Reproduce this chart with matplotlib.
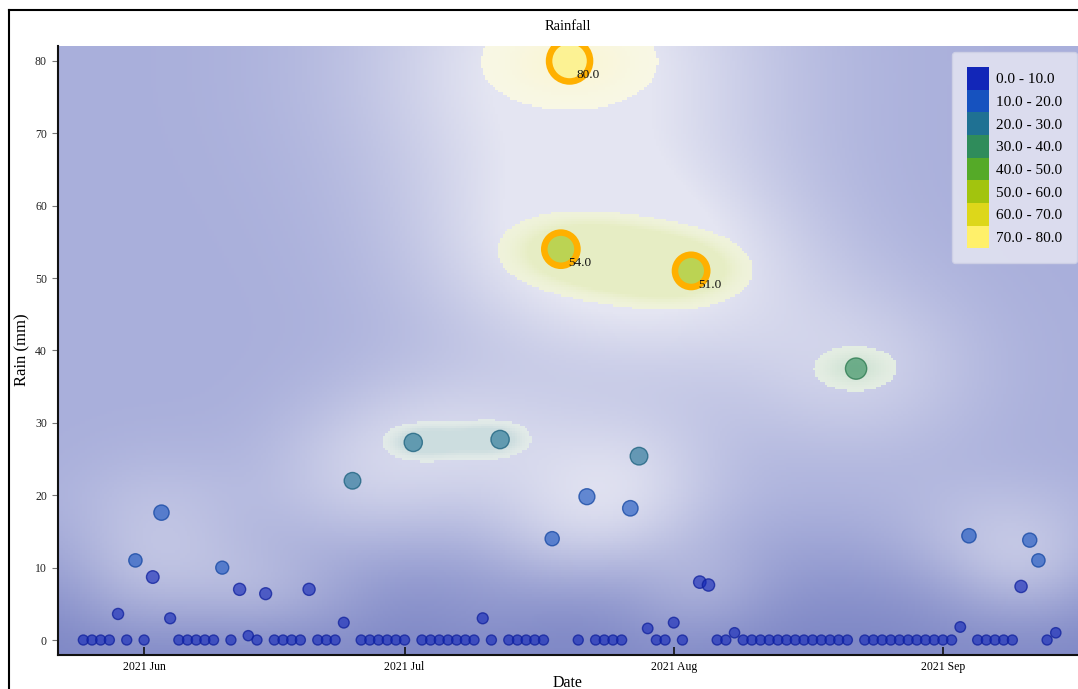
import numpy as np
import pandas as pd
import matplotlib
matplotlib.use('Agg')
import matplotlib.pyplot as plt
import matplotlib.dates as mdates
from matplotlib.patches import Patch
from matplotlib.lines import Line2D
from matplotlib.colors import to_rgb

plt.rcParams['font.family'] = ['Liberation Serif', 'DejaVu Serif']

# daily rainfall, 25 May - 14 Sep 2021
dates = pd.date_range('2021-05-25', '2021-09-14', freq='D')
rain_may = [0, 0, 0, 0, 3.6, 0, 11.0]
rain_jun = [0, 8.7, 17.6, 3.0, 0, 0, 0, 0, 0, 10.0,
            0, 7.0, 0.6, 0, 6.4, 0, 0, 0, 0, 7.0,
            0, 0, 0, 2.4, 22.0, 0, 0, 0, 0, 0]
rain_jul = [0, 27.3, 0, 0, 0, 0, 0, 0, 0, 3.0,
            0, 27.7, 0, 0, 0, 0, 0, 14.0, 54.0, 80.0,
            0, 19.8, 0, 0, 0, 0, 18.2, 25.4, 1.6, 0, 0]
rain_aug = [2.4, 0, 51.0, 8.0, 7.6, 0, 0, 1.0, 0, 0,
            0, 0, 0, 0, 0, 0, 0, 0, 0, 0,
            0, 37.5, 0, 0, 0, 0, 0, 0, 0, 0, 0]
rain_sep = [0, 0, 1.8, 14.4, 0, 0, 0, 0, 0, 7.4,
            13.8, 11.0, 0, 1.0]
rain = np.array(rain_may + rain_jun + rain_jul + rain_aug + rain_sep)

bin_edges = [0, 10, 20, 30, 40, 50, 60, 70, 80]
bin_colors = ['#1226b8', '#1652bf', '#1f7193', '#2f8c5b',
              '#55aa28', '#a2c40e', '#ddd71a', '#fff06a']
bin_labels = [f'{lo:.1f} - {hi:.1f}' for lo, hi in zip(bin_edges[:-1], bin_edges[1:])]

HIGHLIGHT = 50   # ring + value label from here up
GLOW_MIN = 26    # points that get their own tinted halo

W, H = 1078, 689
fig = plt.figure(figsize=(W / 100, H / 100), dpi=100)
ax_l, ax_r, ax_t, ax_b = 58, 1084, 46, 655
ax = fig.add_axes([ax_l / W, (H - ax_b) / H, (ax_r - ax_l) / W, (ax_b - ax_t) / H])

x0 = mdates.date2num(pd.Timestamp('2021-05-22 02:00'))
x1 = mdates.date2num(pd.Timestamp('2021-09-17 06:00'))
y0, y1 = -2.07, 82.07
px_day = (ax_r - ax_l) / (x1 - x0)
px_mm = (ax_b - ax_t) / (y1 - y0)

xd = mdates.date2num(dates)
bins = np.clip(np.digitize(rain, bin_edges[1:-1]), 0, len(bin_colors) - 1)

# background field
gx = np.linspace(x0, x1, 420)
gy = np.linspace(y0, y1, 250)
GX, GY = np.meshgrid(gx, gy)

glow = np.zeros_like(GX)
for x, v in zip(xd, rain):
    if v <= 0:
        continue
    s = 30 + 1.0 * v
    dx = (GX - x) * px_day / (1.25 * s)
    dy = (GY - v) * px_mm / (0.9 * s)
    glow += v * np.exp(-0.5 * (dx ** 2 + dy ** 2))

deep = np.array(to_rgb('#7f88c6'))
lav = np.array(to_rgb('#a9afdb'))
pale = np.array(to_rgb('#e4e5f2'))
k = np.clip((GY - y0) / 24, 0, 1)
k = k * k * (3 - 2 * k)
img = deep + (lav - deep) * k[..., None]
t = np.clip(glow / 70, 0, 1) ** 0.9
img = img + (pale - img) * t[..., None]

# tinted halos around the heavy days, merged per colour bin
tau = 0.75
best = np.zeros_like(GX)
best_bin = np.full(GX.shape, -1)
for b in np.unique(bins[rain >= GLOW_MIN]):
    sel = (bins == b) & (rain >= GLOW_MIN)
    S = np.zeros_like(GX)
    for x, v in zip(xd[sel], rain[sel]):
        dx = (GX - x) * px_day / (1.46 * v)
        dy = (GY - v) * px_mm / (0.8 * v)
        S += np.exp(-0.5 * (dx ** 2 + dy ** 2))
    take = (S >= tau) & (S > best)
    best[take] = S[take]
    best_bin[take] = b

cream = np.array(to_rgb('#f8f8f2'))
for b in np.unique(best_bin[best_bin >= 0]):
    m = best_bin == b
    q = np.clip((best[m] - tau) / (1 - tau), 0, 1)
    a = 0.1 + 0.1 * q ** 2
    img[m] = cream + (np.array(to_rgb(bin_colors[b])) - cream) * a[:, None]

ax.imshow(img, extent=(x0, x1, y0, y1), origin='lower', aspect='auto',
          interpolation='nearest', zorder=0)

# points
diam = 10 + 0.3 * rain
norm = rain < HIGHLIGHT
face = [to_rgb(bin_colors[b]) + (0.62,) for b in bins]
edge = [tuple(np.array(to_rgb(bin_colors[b])) * 0.85) + (0.75,) for b in bins]
ax.scatter(xd[norm], rain[norm], s=(diam[norm] * 0.72) ** 2,
           c=[face[i] for i in np.where(norm)[0]],
           edgecolors=[edge[i] for i in np.where(norm)[0]],
           linewidths=1.0, zorder=3)

hi = ~norm
ax.scatter(xd[hi], rain[hi], s=((diam[hi] + 7) * 0.72) ** 2,
           c=[face[i] for i in np.where(hi)[0]],
           edgecolors='#ffb000', linewidths=4.7, zorder=4)
for x, v in zip(xd[hi], rain[hi]):
    ax.annotate(f'{v:.1f}', (x, v), xytext=(5, -10), textcoords='offset points',
                ha='left', va='center', fontsize=9.5, color='#111111', zorder=5)

ax.set_xlim(x0, x1)
ax.set_ylim(y0, y1)
ax.xaxis.set_major_locator(mdates.MonthLocator())
ax.xaxis.set_major_formatter(mdates.DateFormatter('%Y %b'))
ax.set_yticks(range(0, 81, 10))
ax.tick_params(axis='x', direction='in', length=6, width=1.2, color='#111111',
               labelsize=8.5, pad=4)
ax.tick_params(axis='y', direction='out', length=4, width=0.8, color='#777777',
               labelsize=8.5, pad=4, labelcolor='#222222')
for side in ('top', 'right'):
    ax.spines[side].set_visible(False)
for side in ('left', 'bottom'):
    ax.spines[side].set_linewidth(1.5)
    ax.spines[side].set_color('#111111')

handles = [Patch(facecolor=c, edgecolor='none') for c in bin_colors]
ax.legend(handles, bin_labels, loc='upper right',
          bbox_to_anchor=(1077 / W, 1 - 52 / H), bbox_transform=fig.transFigure,
          fontsize=11, handlelength=1.44, handleheight=1.9, labelspacing=0,
          handletextpad=0.4, borderpad=1.0, borderaxespad=0,
          frameon=True, fancybox=True, framealpha=0.85,
          facecolor='#e4e5f2', edgecolor='#cfd1e6')

fig.text(568 / W, 1 - 26 / H, 'Rainfall', ha='center', va='center', fontsize=10.5)
fig.text(22 / W, 1 - 350 / H, 'Rain (mm)', ha='center', va='center',
         rotation=90, fontsize=12)
fig.text(568 / W, 1 - 687 / H, 'Date', ha='center', va='baseline', fontsize=11.5)

# outer frame
fig.add_artist(Line2D([9 / W, 9 / W], [0, 1 - 10 / H], color='black', linewidth=1.5))
fig.add_artist(Line2D([9 / W, 1], [1 - 10 / H, 1 - 10 / H], color='black', linewidth=1.5))

fig.savefig('out.png', dpi=100)
